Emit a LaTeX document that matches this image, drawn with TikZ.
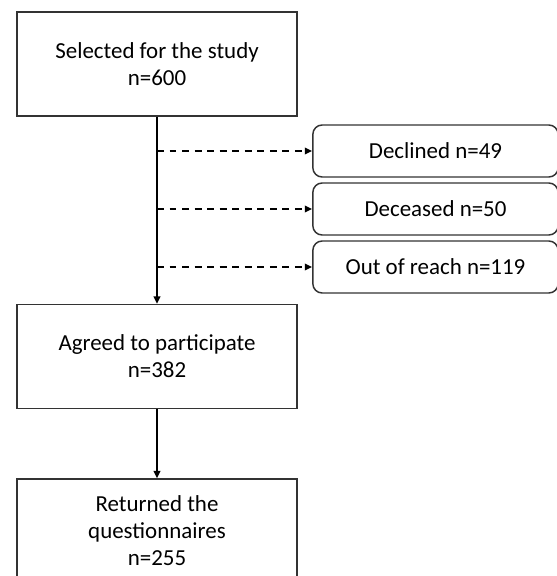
\documentclass[tikz,border=0pt]{standalone}
\usepackage{fontspec}
\setmainfont{Carlito}
\usepackage{tikz}
\usetikzlibrary{arrows.meta,positioning}

\begin{document}
\begin{tikzpicture}[
      x=0.75pt, y=-0.75pt,
      font=\fontsize{17.2pt}{20.2pt}\selectfont,
      stage/.style={draw=black!80, line width=1.1pt, fill=white, align=center, inner sep=0pt, minimum width=210pt, minimum height=78pt},
      dropout/.style={draw=black!80, line width=1.1pt, fill=white, rounded corners=7pt, align=center, inner sep=0pt, minimum width=184pt, minimum height=39pt},
      flow/.style={black, line width=1.2pt, -{Triangle[length=5.5pt, width=5pt]}},
      lost/.style={black, line width=1.2pt, dash pattern=on 5.2pt off 4.2pt, -{Triangle[length=5.5pt, width=5pt]}}
  ]
    \useasboundingbox (0,0) rectangle (557,576);
    \clip (0,0) rectangle (557,576);

    % main stages
    \node[stage] (selected) at (157,64) {Selected for the study\\n=600};
    \node[stage] (agreed) at (157,356.5) {Agreed to participate\\n=382};
    \node[stage] (returned) at (157,531) {Returned the\\questionnaires\\n=255};

    % excluded
    \node[dropout] (declined) at (435.5,151) {Declined n=49};
    \node[dropout] (deceased) at (435.5,209) {Deceased n=50};
    \node[dropout] (outreach) at (435.5,267) {Out of reach n=119};

    \coordinate (split1) at (selected.south |- declined.west);
    \coordinate (split2) at (selected.south |- deceased.west);
    \coordinate (split3) at (selected.south |- outreach.west);

    \draw[flow] (selected) -- (agreed);
    \draw[flow] (agreed) -- (returned);
    \draw[lost] (split1) -- (declined);
    \draw[lost] (split2) -- (deceased);
    \draw[lost] (split3) -- (outreach);
  \end{tikzpicture}
\end{document}
